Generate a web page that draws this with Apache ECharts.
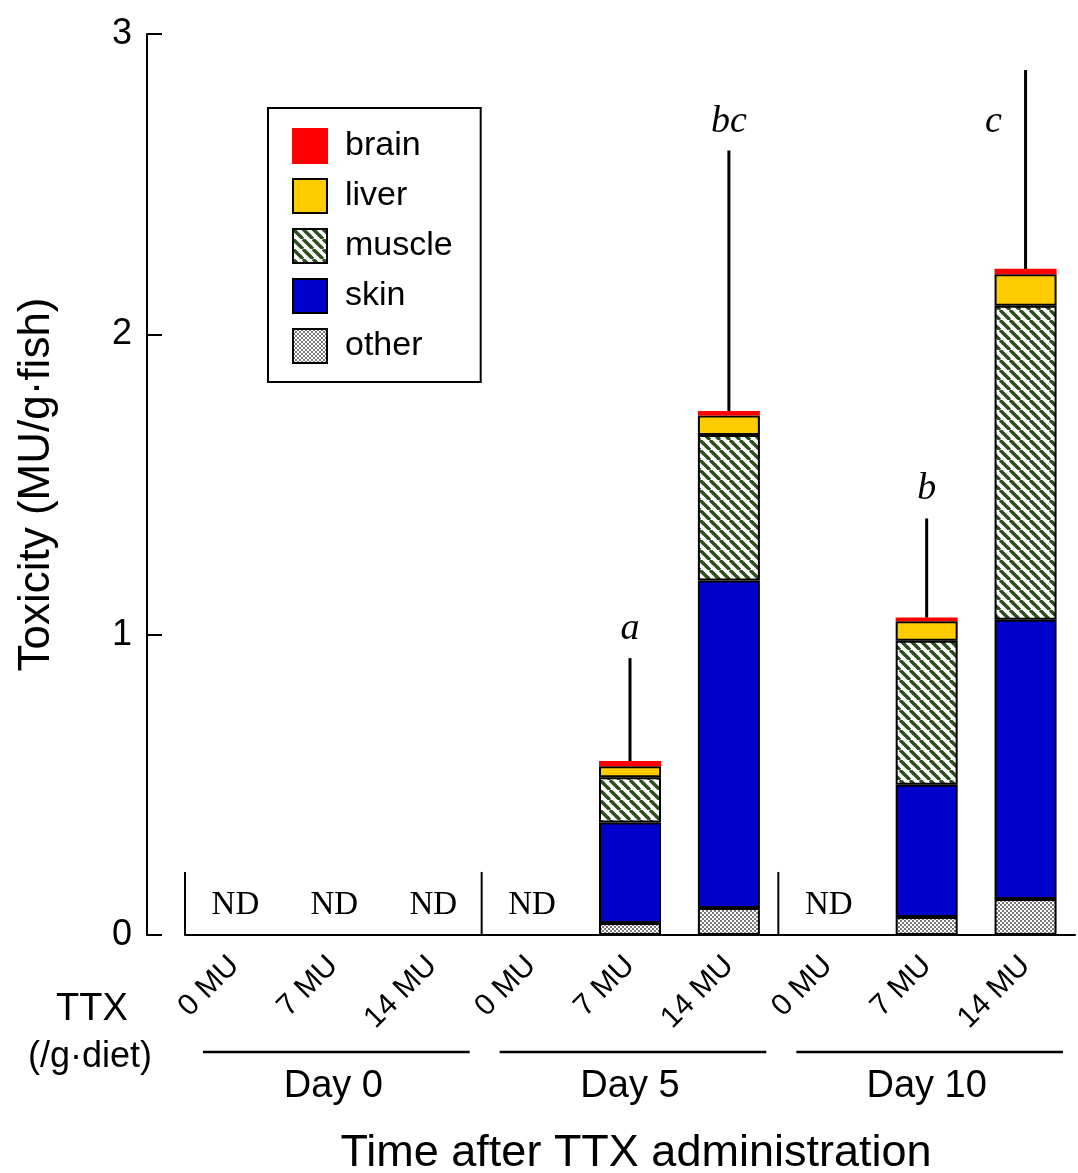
<!DOCTYPE html>
<html><head><meta charset="utf-8">
<script src="https://cdn.jsdelivr.net/npm/echarts@6/dist/echarts.min.js"></script>
<style>html,body{margin:0;padding:0;background:#fff}#c{width:1078px;height:1173px}</style>
</head><body><div id="c"></div>
<script>
// ---- data ----
const days   = ['Day 0', 'Day 5', 'Day 10'];
const doses  = ['0 MU', '7 MU', '14 MU'];
const other  = [0, 0, 0,  0, 0.040, 0.090,  0, 0.060, 0.120];
const skin   = [0, 0, 0,  0, 0.335, 1.090,  0, 0.440, 0.930];
const muscle = [0, 0, 0,  0, 0.150, 0.485,  0, 0.480, 1.045];
const liver  = [0, 0, 0,  0, 0.037, 0.065,  0, 0.065, 0.105];
const brain  = [0, 0, 0,  0, 0.017, 0.015,  0, 0.012, 0.018];
const sd     = [0, 0, 0,  0, 0.343, 0.867,  0, 0.330, 0.662];
const letters = ['', '', '',  '', 'a', 'bc',  '', 'b', 'c'];
const yTicks = [0, 1, 2, 3];

// ---- derived ----
const cats = [];
days.forEach(d => doses.forEach(m => cats.push(d + '|' + m)));
const totals = cats.map((c, i) => other[i] + skin[i] + muscle[i] + liver[i] + brain[i]);
const errData = [], ndData = [];
cats.forEach((c, i) => {
  if (sd[i] > 0) errData.push([i, totals[i], totals[i] + sd[i]]);
  if (totals[i] === 0) ndData.push([i, 0]);
});

// ---- patterns ----
function hatch() {
  const s = 10, cv = document.createElement('canvas');
  cv.width = s; cv.height = s;
  const g = cv.getContext('2d');
  g.fillStyle = '#fff'; g.fillRect(0, 0, s, s);
  g.strokeStyle = '#2c4d1c'; g.lineWidth = 3.4;
  for (const x0 of [-s, 0, s]) { g.beginPath(); g.moveTo(x0, 0); g.lineTo(x0 + s, s); g.stroke(); }
  return { image: cv, repeat: 'repeat' };
}
function checker() {
  const cv = document.createElement('canvas');
  cv.width = 4; cv.height = 4;
  const g = cv.getContext('2d');
  g.fillStyle = '#fff'; g.fillRect(0, 0, 4, 4);
  g.fillStyle = '#7a7a7a'; g.fillRect(0, 0, 2, 2); g.fillRect(2, 2, 2, 2);
  return { image: cv, repeat: 'repeat' };
}

const SANS = '"Liberation Sans", Arial, sans-serif';
const SERIF = '"Liberation Serif", "Times New Roman", serif';

const chart = echarts.init(document.getElementById('c'), null, { renderer: 'canvas' });

function barSeries(name, data, color, border) {
  return {
    name, type: 'bar', stack: 'tox', barWidth: 62,
    data: data.map(v => (v > 0 ? v : '-')),
    itemStyle: { color, borderColor: border || '#000', borderWidth: 2 },
    emphasis: { disabled: true }
  };
}

const option = {
  animation: false,
  backgroundColor: '#fff',
  textStyle: { fontFamily: SANS, color: '#000' },
  grid: { left: 185, right: 3, top: 34, bottom: 238, containLabel: false, outerBoundsMode: 'none' },
  legend: {
    orient: 'vertical', left: 268, top: 108,
    data: ['brain', 'liver', 'muscle', 'skin', 'other'],
    icon: 'rect', itemWidth: 34, itemHeight: 34, itemGap: 14,
    padding: [20, 28, 18, 24],
    borderColor: '#000', borderWidth: 2,
    selectedMode: false,
    textStyle: { fontSize: 34, color: '#000', fontFamily: SANS, padding: [0, 0, 0, 13] }
  },
  xAxis: {
    type: 'category', data: cats,
    axisLine: { lineStyle: { color: '#000', width: 2 } },
    axisTick: { show: false },
    axisLabel: {
      rotate: 45, fontSize: 30, color: '#000', margin: 26, interval: 0,
      formatter: v => v.split('|')[1]
    },
    name: 'Time after TTX administration', nameLocation: 'middle', nameGap: 196,
    nameTextStyle: { fontSize: 45, color: '#000', fontFamily: SANS, padding: [0, 0, 0, 12] }
  },
  yAxis: {
    type: 'value', min: yTicks[0], max: yTicks[yTicks.length - 1], interval: 1, offset: 38,
    axisLine: { show: true, lineStyle: { color: '#000', width: 2 } },
    axisTick: { show: true, inside: true, length: 15, lineStyle: { color: '#000', width: 2 } },
    axisLabel: { fontSize: 36, color: '#000', margin: 15, padding: [0, 0, 14, 0] },
    splitLine: { show: false },
    name: 'Toxicity (MU/g·fish)', nameLocation: 'middle', nameGap: 88,
    nameTextStyle: { fontSize: 44, color: '#000', fontFamily: SANS }
  },
  series: [
    barSeries('other', other, checker()),
    barSeries('skin', skin, '#0000cc'),
    barSeries('muscle', muscle, hatch()),
    barSeries('liver', liver, '#ffcc00'),
    barSeries('brain', brain, '#ff0000', '#ff0000'),
    {
      type: 'custom', name: 'err', data: errData, z: 5,
      encode: { x: 0, y: [1, 2] },
      renderItem: function (params, api) {
        const i = api.value(0);
        const p0 = api.coord([i, api.value(1)]);
        const p1 = api.coord([i, api.value(2)]);
        const gridTop = params.coordSys.y;
        let tx = p1[0], ty = p1[1] - 10, va = 'bottom';
        if (p1[1] - 50 < gridTop) { tx = p1[0] - 32; ty = p1[1] + 52; va = 'middle'; }
        return {
          type: 'group', children: [
            { type: 'line', shape: { x1: p0[0], y1: p0[1], x2: p1[0], y2: p1[1] },
              style: { stroke: '#000', lineWidth: 3 } },
            { type: 'text', x: tx, y: ty,
              style: { text: letters[i], fill: '#000', font: 'italic 38px ' + SERIF,
                       align: 'center', verticalAlign: va } }
          ]
        };
      }
    },
    {
      type: 'custom', name: 'nd', data: ndData, z: 5,
      encode: { x: 0, y: 1 },
      renderItem: function (params, api) {
        const i = api.value(0);
        const p = api.coord([i, 0]);
        return { type: 'text', x: p[0] + 1, y: p[1] - 30,
          style: { text: 'ND', fill: '#000', font: '33px ' + SERIF, align: 'center', verticalAlign: 'middle' } };
      }
    }
  ]
};
chart.setOption(option);

// ---- group decorations computed from the axes ----
const xs = cats.map((c, i) => chart.convertToPixel({ xAxisIndex: 0 }, i));
const band = xs[1] - xs[0];
const y0 = chart.convertToPixel({ yAxisIndex: 0 }, 0);
const ySep = chart.convertToPixel({ yAxisIndex: 0 }, 0.21);
const gfx = [];
days.forEach((d, g) => {
  const left = xs[3 * g] - band / 2, right = xs[3 * g + 2] + band / 2;
  gfx.push({ type: 'line', shape: { x1: left, y1: y0, x2: left, y2: ySep }, style: { stroke: '#000', lineWidth: 2 }, z: 10 });
  gfx.push({ type: 'line', shape: { x1: left + 18, y1: y0 + 117, x2: right - 12, y2: y0 + 117 }, style: { stroke: '#000', lineWidth: 2.5 }, z: 10 });
  gfx.push({ type: 'text', x: xs[3 * g + 1], y: y0 + 152, style: { text: d, fill: '#000', font: '38px ' + SANS, align: 'center', verticalAlign: 'middle' }, z: 10 });
});
gfx.push({ type: 'text', x: 92, y: y0 + 75, style: { text: 'TTX', fill: '#000', font: '38px ' + SANS, align: 'center', verticalAlign: 'middle' } });
gfx.push({ type: 'text', x: 90, y: y0 + 122, style: { text: '(/g·diet)', fill: '#000', font: '36px ' + SANS, align: 'center', verticalAlign: 'middle' } });
chart.setOption({ graphic: { elements: gfx } });
</script>
</body></html>
